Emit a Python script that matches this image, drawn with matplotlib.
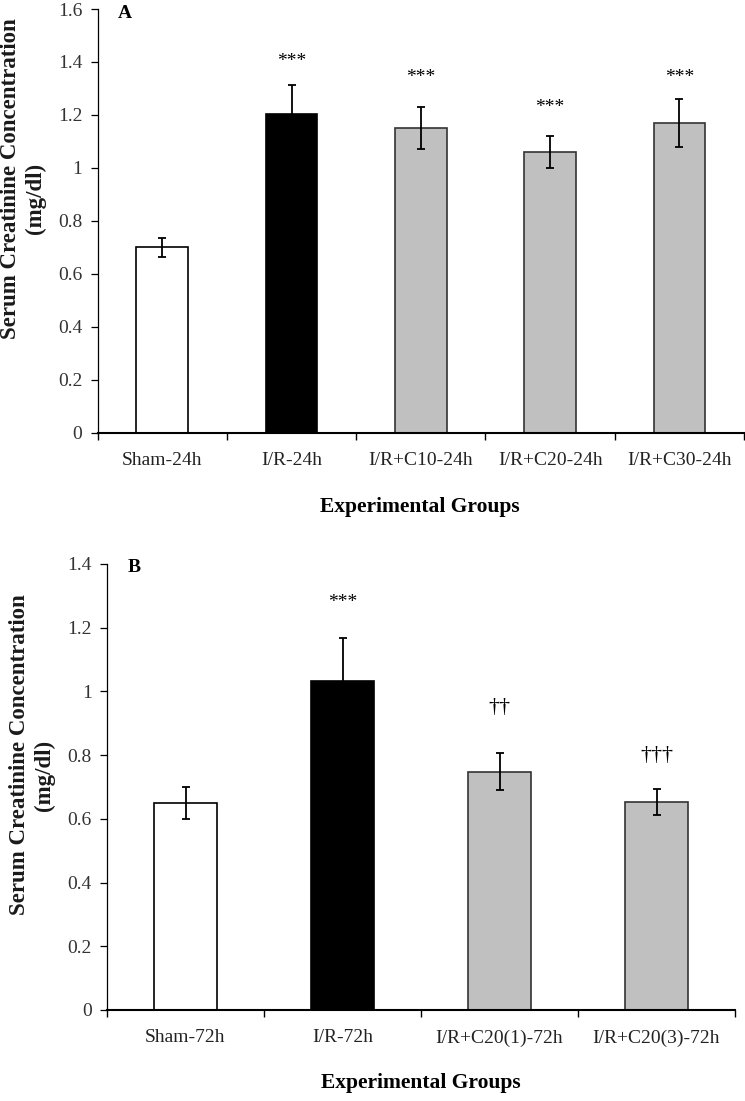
import numpy as np
import matplotlib
matplotlib.use("Agg")
import matplotlib.pyplot as plt
from matplotlib.ticker import FixedLocator

plt.rcParams['font.family'] = ['Liberation Serif', 'DejaVu Serif']

# panel A data
groups_a = ['Sham-24h', 'I/R-24h', 'I/R+C10-24h', 'I/R+C20-24h', 'I/R+C30-24h']
means_a = [0.70, 1.205, 1.152, 1.059, 1.169]
errs_a = [0.035, 0.108, 0.08, 0.06, 0.09]
marks_a = ['', '***', '***', '***', '***']
mark_y_a = [0, 1.40, 1.34, 1.23, 1.34]

# panel B data
groups_b = ['Sham-72h', 'I/R-72h', 'I/R+C20(1)-72h', 'I/R+C20(3)-72h']
means_b = [0.651, 1.033, 0.748, 0.652]
errs_b = [0.05, 0.135, 0.058, 0.041]
marks_b = ['', '***', '\u2020\u2020', '\u2020\u2020\u2020']
mark_y_b = [0, 1.28, 0.95, 0.80]

fills = ['white', 'black', '#c0c0c0', '#c0c0c0', '#c0c0c0']
edges = ['black', 'black', '#333333', '#333333', '#333333']

W, H = 745, 1101
fig = plt.figure(figsize=(W / 100, H / 100), dpi=100)


def panel(rect, groups, means, errs, marks, mark_y, ymax, letter, letter_xy):
    ax = fig.add_axes(rect)
    x = np.arange(len(groups))
    ax.bar(x, means, width=0.4, color=fills[:len(groups)],
           edgecolor=edges[:len(groups)], linewidth=1.2, zorder=2)
    ax.errorbar(x, means, yerr=errs, fmt='none', ecolor='black',
                elinewidth=1.3, capsize=3, capthick=1.3, zorder=3)
    for xi, m, yy in zip(x, marks, mark_y):
        if m:
            fs = 14 if m.startswith('*') else 16
            ax.text(xi, yy, m, ha='center', va='center', fontsize=fs)
    ax.set_xlim(-0.5, len(groups) - 0.5)
    ax.set_ylim(0, ymax)
    ticks = np.arange(0, ymax + 0.01, 0.2)
    ax.set_yticks(ticks)
    ax.set_yticklabels(['0' if v == 0 else ('1' if abs(v - 1) < 1e-9 else '%.1f' % v)
                        for v in ticks])
    ax.set_xticks(x)
    ax.set_xticklabels(groups)
    ax.xaxis.set_minor_locator(FixedLocator(np.arange(-0.5, len(groups), 1.0)))
    ax.tick_params(axis='x', which='major', length=0, pad=14, labelsize=14,
                   labelcolor='#222222')
    ax.tick_params(axis='x', which='minor', length=5, width=1.0, direction='out')
    ax.tick_params(axis='y', length=5, width=0.9, direction='out', pad=6,
                   labelsize=14, labelcolor='#333333')
    for s in ['top', 'right']:
        ax.spines[s].set_visible(False)
    ax.spines['left'].set_linewidth(0.9)
    ax.spines['bottom'].set_linewidth(1.5)
    ax.spines['bottom'].set_zorder(4)
    fig.text(letter_xy[0] / W, 1 - letter_xy[1] / H, letter, fontsize=14,
             fontweight='bold', ha='center', va='center')
    return ax


ax1 = panel([97.7 / W, 1 - 433 / H, (744 - 97.7) / W, (433 - 9) / H],
            groups_a, means_a, errs_a, marks_a, mark_y_a, 1.6, 'A', (125, 13))
ax2 = panel([107 / W, 1 - 1010 / H, (735 - 107) / W, (1010 - 564) / H],
            groups_b, means_b, errs_b, marks_b, mark_y_b, 1.4, 'B', (134, 568))

# y labels (two lines each)
for x1, y1, x2, y2 in [(11, 179, 35, 198), (20, 755, 44, 775)]:
    fig.text(x1 / W, 1 - y1 / H, 'Serum Creatinine Concentration', rotation=90,
             ha='center', va='center', fontsize=16.5, fontweight='bold', color='#1a1a1a')
    fig.text(x2 / W, 1 - y2 / H, '(mg/dl)', rotation=90,
             ha='center', va='center', fontsize=16.5, fontweight='bold', color='#1a1a1a')

# x labels
fig.text(420 / W, 1 - 507 / H, 'Experimental Groups', ha='center', va='center',
         fontsize=15.5, fontweight='bold')
fig.text(421 / W, 1 - 1083 / H, 'Experimental Groups', ha='center', va='center',
         fontsize=15.5, fontweight='bold')

fig.savefig('out.png', dpi=100)
